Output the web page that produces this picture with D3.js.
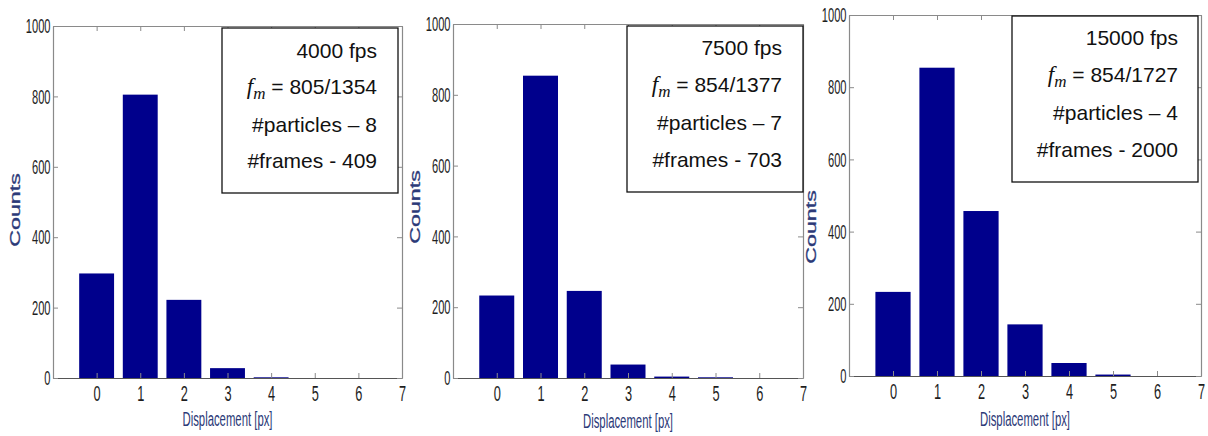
<!DOCTYPE html>
<html>
<head>
<meta charset="utf-8">
<script src="https://cdn.jsdelivr.net/npm/d3@7"></script>
<style>
  html, body { margin: 0; padding: 0; background: #ffffff; }
  svg { display: block; }
</style>
</head>
<body>
<svg id="chart" width="1208" height="436"></svg>
<script>
// Displacement histograms at three frame rates
const displacement = [0, 1, 2, 3, 4, 5, 6, 7];
const counts4000  = [297, 805, 222, 28, 2, 0, 0, 0];
const counts7500  = [233, 854, 246, 38, 4, 2, 0, 0];
const counts15000 = [233, 854, 457, 143, 36, 4, 0, 0];
const yTicks = [0, 200, 400, 600, 800, 1000];
const xTicks = [0, 1, 2, 3, 4, 5, 6, 7];
const fpsLabels = ["4000 fps", "7500 fps", "15000 fps"];
const particleCounts = [8, 7, 4];
const frameCounts = [409, 703, 2000];
const xLabel = "Displacement [px]";
const yLabel = "Counts";

const seriesList = [counts4000, counts7500, counts15000];

// Panel frames (axes box in page pixels) and legend box placement
const frames = [
  { left: 53,  right: 402,  top: 26, bottom: 378, box: [222, 28, 398, 193], textRight: 377,  lines: [58, 94, 132, 168], countsY: 210, xlabY: 426 },
  { left: 453, right: 803,  top: 24, bottom: 378, box: [627, 26, 803, 192], textRight: 782,  lines: [55, 92, 130, 167], countsY: 207, xlabY: 428 },
  { left: 849, right: 1201, top: 15, bottom: 376, box: [1012, 16, 1198, 182], textRight: 1178, lines: [45, 82, 120, 157], countsY: 227, xlabY: 426 }
];

const barColor = "#00008c";
const axisColor = "#8a8a8a";
const labelColor = "#2c3a78";

const svg = d3.select("#chart");

seriesList.forEach((counts, i) => {
  const f = frames[i];
  const x = d3.scaleLinear().domain([-1, 7]).range([f.left, f.right]);
  const y = d3.scaleLinear().domain([0, 1000]).range([f.bottom, f.top]);
  const g = svg.append("g");

  // bars (width 0.8 of a unit)
  g.selectAll("rect.bar")
    .data(displacement.map((d, k) => ({ d, v: counts[k] })))
    .join("rect")
    .attr("class", "bar")
    .attr("x", p => x(p.d - 0.4))
    .attr("width", p => x(p.d + 0.4) - x(p.d - 0.4))
    .attr("y", p => y(p.v))
    .attr("height", p => y(0) - y(p.v))
    .attr("fill", barColor);

  // bottom axis with labels
  const bottom = g.append("g")
    .attr("transform", `translate(0,${f.bottom})`)
    .call(d3.axisBottom(x).tickValues(xTicks).tickSize(-5).tickSizeOuter(0).tickPadding(7).tickFormat(d3.format("d")));
  // left axis with labels
  const left = g.append("g")
    .attr("transform", `translate(${f.left},0)`)
    .call(d3.axisLeft(y).tickValues(yTicks).tickSize(-5).tickSizeOuter(0).tickPadding(2.5).tickFormat(d3.format("d")));
  // top and right: ticks only
  const top = g.append("g")
    .attr("transform", `translate(0,${f.top})`)
    .call(d3.axisTop(x).tickValues(xTicks).tickSize(-5).tickSizeOuter(0).tickFormat(""));
  const right = g.append("g")
    .attr("transform", `translate(${f.right},0)`)
    .call(d3.axisRight(y).tickValues(yTicks).tickSize(-5).tickSizeOuter(0).tickFormat(""));

  [bottom, left, top, right].forEach(a => {
    a.selectAll("path.domain").attr("stroke", axisColor).attr("stroke-width", 1.2);
    a.selectAll(".tick line").attr("stroke", axisColor);
  });
  bottom.select("path.domain").attr("stroke", "#555");

  // narrow, tall tick lettering
  const xSqueeze = 0.58, ySqueeze = 0.53;
  bottom.selectAll(".tick text")
    .attr("font-family", "'Liberation Sans', Arial, sans-serif")
    .attr("font-size", 22)
    .attr("fill", "#1e1e1e")
    .attr("transform", `scale(${xSqueeze},1)`);
  left.selectAll(".tick text")
    .attr("font-family", "'Liberation Sans', Arial, sans-serif")
    .attr("font-size", 21)
    .attr("fill", "#1e1e1e")
    .attr("x", -2.5 / ySqueeze)
    .attr("transform", `scale(${ySqueeze},1)`);

  // axis titles
  g.append("text")
    .attr("transform", `translate(${(f.left + f.right) / 2},${f.xlabY}) scale(0.54,1)`)
    .attr("text-anchor", "middle")
    .attr("font-family", "'Liberation Sans', Arial, sans-serif")
    .attr("font-size", 21)
    .attr("fill", labelColor)
    .text(xLabel);

  g.append("text")
    .attr("transform", `translate(${f.left - 38},${f.countsY}) rotate(-90) scale(1.6,1)`)
    .attr("text-anchor", "middle")
    .attr("dy", "0.35em")
    .attr("font-family", "'Liberation Sans', Arial, sans-serif")
    .attr("font-size", 14.5)
    .attr("fill", labelColor)
    .attr("stroke", labelColor)
    .attr("stroke-width", 0.3)
    .text(yLabel);

  // annotation box
  const [bx0, by0, bx1, by1] = f.box;
  g.append("rect")
    .attr("x", bx0).attr("y", by0)
    .attr("width", bx1 - bx0).attr("height", by1 - by0)
    .attr("fill", "#ffffff")
    .attr("stroke", "#111")
    .attr("stroke-width", 1.3);

  const txt = g.append("g")
    .attr("font-family", "'Liberation Sans', Arial, sans-serif")
    .attr("font-size", 21)
    .attr("fill", "#111")
    .attr("text-anchor", "end");

  txt.append("text").attr("x", f.textRight).attr("y", f.lines[0]).text(fpsLabels[i]);

  const fm = txt.append("text").attr("x", f.textRight).attr("y", f.lines[1]);
  fm.append("tspan")
    .attr("font-family", "'Liberation Serif', 'DejaVu Serif', serif")
    .attr("font-style", "italic")
    .attr("font-size", 23)
    .text("f");
  fm.append("tspan")
    .attr("font-family", "'Liberation Serif', 'DejaVu Serif', serif")
    .attr("font-style", "italic")
    .attr("font-size", 17)
    .attr("dy", 5)
    .text("m");
  fm.append("tspan")
    .attr("dy", -5)
    .text(` = ${counts[1]}/${d3.sum(counts)}`);

  txt.append("text").attr("x", f.textRight).attr("y", f.lines[2]).text(`#particles \u2013 ${particleCounts[i]}`);
  txt.append("text").attr("x", f.textRight).attr("y", f.lines[3]).text(`#frames - ${frameCounts[i]}`);
});
</script>
</body>
</html>
